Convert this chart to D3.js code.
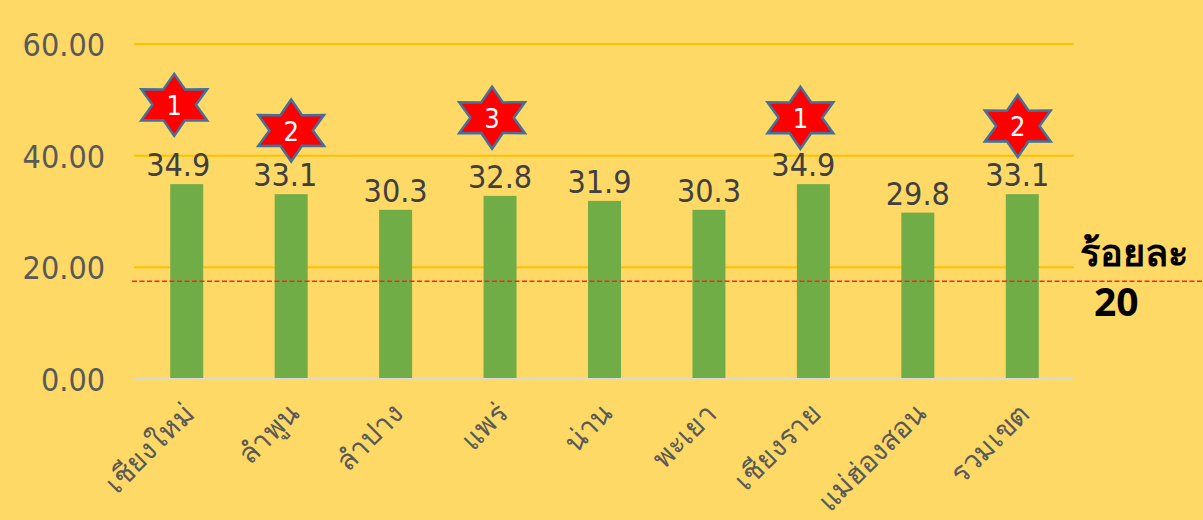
<!DOCTYPE html>
<html><head><meta charset="utf-8">
<style>html,body{margin:0;padding:0;background:#FFD966;overflow:hidden}svg{display:block}</style>
<script src="https://cdn.jsdelivr.net/npm/d3@7/dist/d3.min.js"></script></head>
<body><svg id="c" width="1203" height="520"></svg>
<script>
const categories=["เชียงใหม่","ลำพูน","ลำปาง","แพร่","น่าน","พะเยา","เชียงราย","แม่ฮ่องสอน","รวมเขต"];
const values=[34.9,33.1,30.3,32.8,31.9,30.3,34.9,29.8,33.1];
const yTicks=[0,20,40,60];
const thresholdValue=17.5;
const starCategories=["เชียงใหม่","ลำพูน","แพร่","เชียงราย","รวมเขต"];
const starRanks=[1,2,3,1,2];
const starLevels=[49.1,44.5,46.8,46.8,45.3];
const starShift=[-12.5,0,-8,-13,-4.5];
const labelShift=[-8.5,-6,0,0,-5,0,-10,0,-5];

const font="'DejaVu Sans Condensed','DejaVu Sans',sans-serif";
const svg=d3.select("#c");
const x=d3.scaleBand().domain(categories).range([134.5,1074.5]).paddingInner(0.684).paddingOuter(0.342);
const y=d3.scaleLinear().domain([0,60]).range([379,44]);

svg.append("g").selectAll("line").data(yTicks.filter(d=>d>0)).join("line")
 .attr("x1",134).attr("x2",1074).attr("y1",d=>y(d)).attr("y2",d=>y(d))
 .attr("stroke","#FFC000").attr("stroke-width",2);
svg.append("line").attr("x1",134).attr("x2",1074).attr("y1",y(0)).attr("y2",y(0))
 .attr("stroke","#D9D9D9").attr("stroke-width",2);

svg.append("g").selectAll("text").data(yTicks).join("text")
 .attr("x",105).attr("y",d=>y(d)+12).attr("text-anchor","end")
 .attr("font-family",font).attr("font-stretch","condensed").attr("font-size",32).attr("fill","#595959")
 .text(d=>d3.format(".2f")(d));

svg.append("g").selectAll("rect").data(values).join("rect")
 .attr("x",(d,i)=>x(categories[i])).attr("width",x.bandwidth())
 .attr("y",d=>y(d)).attr("height",d=>y(0)-y(d)-1).attr("fill","#70AD47");

svg.append("line").attr("x1",132).attr("x2",1203).attr("y1",y(thresholdValue)).attr("y2",y(thresholdValue))
 .attr("stroke","#FF2020").attr("stroke-width",1.5).attr("stroke-dasharray","5 2.5");

svg.append("g").selectAll("text").data(values).join("text")
 .attr("x",(d,i)=>x(categories[i])+x.bandwidth()/2+labelShift[i]).attr("y",d=>y(d)-8)
 .attr("text-anchor","middle").attr("font-family",font).attr("font-stretch","condensed").attr("font-size",32).attr("fill","#404040")
 .text(d=>d.toFixed(1));

svg.append("g").selectAll("text").data(categories).join("text")
 .attr("transform",d=>`translate(${x(d)+x.bandwidth()/2+4},${410}) rotate(-45)`)
 .attr("text-anchor","end").attr("dominant-baseline","middle")
 .attr("font-family","'Noto Sans',sans-serif").attr("font-size",28.5).attr("fill","#595959").text(d=>d);

function star(rx,ry,ir){const p=[];for(let k=0;k<12;k++){const a=k*Math.PI/6,r=k%2?ir:1;
 p.push([rx*r*Math.sin(a),-ry*r*Math.cos(a)]);}return p.join(" ");}
const g=svg.append("g").selectAll("g").data(starRanks).join("g")
 .attr("transform",(d,i)=>`translate(${x(starCategories[i])+x.bandwidth()/2+starShift[i]},${y(starLevels[i])})`);
g.append("polygon").attr("points",star(38,31,0.57)).attr("fill","#FF0000")
 .attr("stroke","#41719C").attr("stroke-width",2.5).attr("stroke-linejoin","miter");
g.append("text").attr("y",10).attr("text-anchor","middle").attr("font-family",font).attr("font-stretch","condensed")
 .attr("font-size",27).attr("fill","#fff").text(d=>d);

svg.append("text").attr("x",1080).attr("y",266).attr("font-family","'Noto Sans',sans-serif").attr("font-weight",700)
 .attr("font-size",38).attr("fill","#000").text("ร้อยละ");
svg.append("text").attr("x",1094).attr("y",316).attr("font-family","'Noto Sans',sans-serif").attr("font-weight",700)
 .attr("font-size",39).attr("fill","#000").text("20");
</script></body></html>
